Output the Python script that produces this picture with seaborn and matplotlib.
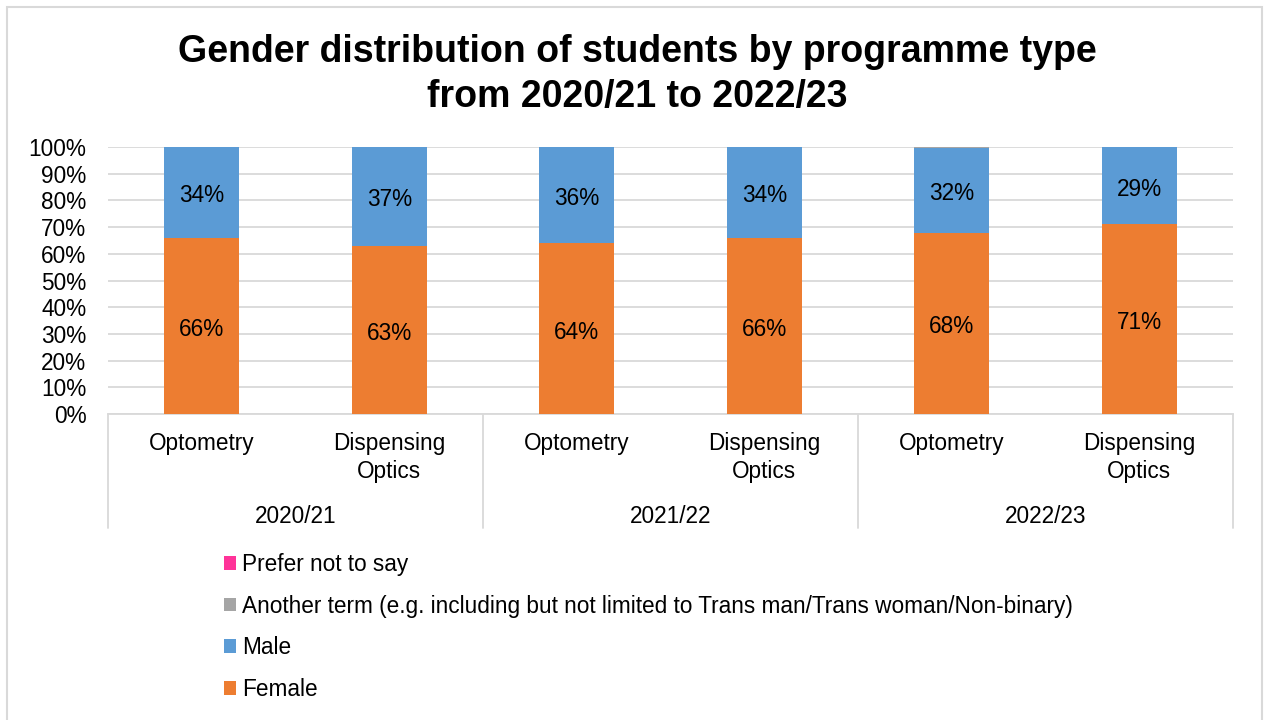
import matplotlib
matplotlib.use("Agg")
import matplotlib.pyplot as plt
from matplotlib.patches import Patch, Rectangle
from matplotlib.transforms import offset_copy
import numpy as np
import pandas as pd
import seaborn as sns

# ---- data -------------------------------------------------------------
years = ["2020/21", "2021/22", "2022/23"]
programmes = ["Optometry", "Dispensing\nOptics"]
female = [66, 63, 64, 66, 67.8, 71]
male = [34, 37, 36, 34, 31.9, 29]
another_term = [0, 0, 0, 0, 0.3, 0]
prefer_not = [0, 0, 0, 0, 0, 0]

legend_labels = [
    "Prefer not to say",
    "Another term (e.g. including but not limited to Trans man/Trans woman/Non-binary)",
    "Male",
    "Female",
]
colors = {"Female": "#ED7D31", "Male": "#5B9BD5",
          "Another": "#A5A5A5", "Prefer": "#FF3399"}

slots = [f"{p} {y}" for y in years for p in programmes]
df = pd.DataFrame({
    "slot": slots,
    "female": female,
    "male": male,
    "another": another_term,
    "prefer": prefer_not,
})
df["cum_female"] = df["female"]
df["cum_male"] = df["cum_female"] + df["male"]
df["cum_another"] = df["cum_male"] + df["another"]
df["cum_prefer"] = df["cum_another"] + df["prefer"]

# ---- figure -----------------------------------------------------------
sns.set_theme(style="white")
plt.rcParams["font.family"] = ["Liberation Sans", "DejaVu Sans"]
FS = 16.3

fig = plt.figure(figsize=(12.65, 7.2), dpi=100)
W, H = 1265, 720
ax = fig.add_axes([108 / W, 1 - 414 / H, (1233 - 108) / W, (414 - 147) / H])

# stacked bars drawn as overlapping cumulative totals
for col, key in [("cum_prefer", "Prefer"), ("cum_another", "Another"),
                 ("cum_male", "Male"), ("cum_female", "Female")]:
    sns.barplot(data=df, x="slot", y=col, order=slots, color=colors[key],
                width=0.4, saturation=1, errorbar=None, ax=ax, zorder=3,
                linewidth=0)

ax.set_ylim(0, 100)
ax.set_xlim(-0.5, len(slots) - 0.5)
ax.set_yticks(np.arange(0, 101, 10))
ax.set_yticklabels([f"{v}%" for v in range(0, 101, 10)], fontsize=FS, color="black")
ax.yaxis.grid(True, color="#D9D9D9", linewidth=1.3, zorder=0)
ax.set_axisbelow(True)
ax.tick_params(axis="y", length=0, pad=15.5)
for s in ["left", "right", "top"]:
    ax.spines[s].set_visible(False)
ax.spines["bottom"].set_color("#D9D9D9")
ax.spines["bottom"].set_linewidth(1.3)
ax.set_xlabel("")
ax.set_ylabel("")

# programme labels
ax.set_xticks(range(len(slots)))
ax.set_xticklabels(programmes * len(years), fontsize=FS, color="black",
                   linespacing=1.3)
ax.tick_params(axis="x", length=0, pad=13)

# year labels and group separators
trans = ax.get_xaxis_transform()
for i, y in enumerate(years):
    ax.text(2 * i + 0.5, -0.383, y, transform=trans, ha="center", va="center",
            fontsize=FS, color="black")
for b in [-0.5, 1.5, 3.5, 5.5]:
    ax.plot([b, b], [0, -0.427], transform=trans, color="#D9D9D9",
            linewidth=1.3, clip_on=False)

# value labels
lbl_trans = offset_copy(ax.transData, fig=fig, x=0, y=-3.5, units="dots")
for i in range(len(slots)):
    f, m = df["female"][i], df["male"][i]
    ax.text(i, f / 2, f"{f:.0f}%", ha="center", va="center", fontsize=FS,
            color="black", zorder=5, transform=lbl_trans)
    ax.text(i, f + m / 2, f"{m:.0f}%", ha="center", va="center", fontsize=FS,
            color="black", zorder=5, transform=lbl_trans)

# title
fig.text(637 / W, 1 - 62 / H, "Gender distribution of students by programme type",
         ha="center", va="baseline", fontsize=27, fontweight="bold", color="black")
fig.text(637 / W, 1 - 107 / H, "from 2020/21 to 2022/23",
         ha="center", va="baseline", fontsize=27, fontweight="bold", color="black")

# legend
handles = [Patch(facecolor=colors[k], edgecolor="none")
           for k in ["Prefer", "Another", "Male", "Female"]]
fig.legend(handles, legend_labels, loc="upper left",
           bbox_to_anchor=(224 / W, 1 - 553 / H), frameon=False,
           fontsize=FS, handlelength=0.55, handleheight=0.55,
           handletextpad=0.25, labelspacing=0.82, borderpad=0,
           borderaxespad=0, labelcolor="black")

# chart border
fig.patches.append(Rectangle((7.5 / W, -0.01), (1262 - 7.5) / W, 1.01 - 7 / H,
                             transform=fig.transFigure, fill=False,
                             edgecolor="#D9D9D9", linewidth=1.5))

fig.savefig("out.png", dpi=100, facecolor="white")
